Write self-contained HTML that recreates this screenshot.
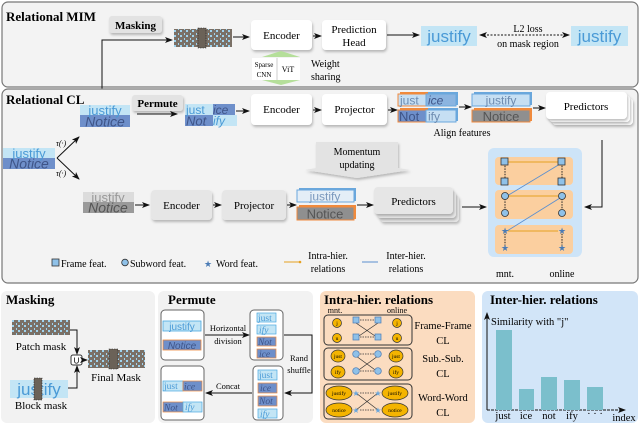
<!DOCTYPE html>
<html><head><meta charset="utf-8"><style>
body{margin:0;background:#fff}
svg{display:block}
text{font-family:"Liberation Serif",serif}
.b{font-weight:bold}
.s{font-family:"Liberation Sans",sans-serif}
</style></head><body>
<svg width="640" height="424" viewBox="0 0 640 424" xmlns="http://www.w3.org/2000/svg">
<defs>
<marker id="a" markerWidth="8" markerHeight="8" refX="7" refY="4" orient="auto" markerUnits="userSpaceOnUse"><path d="M0,1 L8,4 L0,7 L2,4z" fill="#111"/></marker>
<marker id="as" markerWidth="8" markerHeight="8" refX="1" refY="4" orient="auto" markerUnits="userSpaceOnUse"><path d="M8,1 L0,4 L8,7 L6,4z" fill="#111"/></marker>
<filter id="sh" x="-20%" y="-20%" width="140%" height="150%"><feDropShadow dx="1" dy="2" stdDeviation="1.2" flood-color="#000" flood-opacity="0.25"/></filter>
<pattern id="pm" width="6" height="5" patternUnits="userSpaceOnUse"><rect width="6" height="5" fill="#7a7066"/><rect x="0" y="0" width="2" height="2" fill="#9fd3ee"/><rect x="4" y="3" width="1" height="2" fill="#9fd3ee"/></pattern>
</defs>

<!-- MIM panel -->
<rect x="2" y="2" width="636" height="85" rx="6" fill="#f3f3f3" stroke="#777" stroke-width="1.2"/>
<text x="6" y="21" font-size="13" class="b">Relational MIM</text>
<rect x="109" y="16" width="53" height="17" rx="3" fill="#e3e3e3" filter="url(#sh)"/>
<text x="135.5" y="29" font-size="11" class="b" text-anchor="middle">Masking</text>
<rect x="174" y="29" width="58" height="18" fill="url(#pm)"/>
<rect x="198" y="28" width="8" height="20" fill="#6b6258" stroke="#222" stroke-width="0.6" stroke-dasharray="1.5,1"/>
<path d="M102,105 V40 H172" fill="none" stroke="#111" stroke-width="1" marker-end="url(#a)"/>
<path d="M233,37 H249" stroke="#111" marker-end="url(#a)"/>
<rect x="251" y="20" width="61" height="30" rx="4" fill="#fff" filter="url(#sh)"/>
<text x="281.5" y="39" font-size="11" text-anchor="middle">Encoder</text>
<path d="M313,36 H321" stroke="#111" marker-end="url(#a)"/>
<rect x="322" y="20" width="64" height="30" rx="4" fill="#fff" filter="url(#sh)"/>
<text x="354" y="33" font-size="11" text-anchor="middle">Prediction</text>
<text x="354" y="46" font-size="11" text-anchor="middle">Head</text>
<path d="M387,35 H419" stroke="#111" marker-end="url(#a)"/>
<rect x="421" y="26" width="56" height="20" fill="#c3e5f5"/>
<text x="449" y="42" font-size="17" fill="#4a9ad6" text-anchor="middle" class="s">justify</text>
<path d="M480,35 H569" stroke="#111" stroke-dasharray="2,1.5" marker-start="url(#as)" marker-end="url(#a)"/>
<text x="528" y="32" font-size="10" text-anchor="middle">L2 loss</text>
<text x="528" y="47" font-size="10" text-anchor="middle">on mask region</text>
<rect x="571" y="26" width="57" height="20" fill="#c3e5f5"/>
<text x="599.5" y="42" font-size="17" fill="#4a9ad6" text-anchor="middle" class="s">justify</text>
<path d="M262,57 L281,51 L300,57 Z" fill="#b5df9a"/>
<path d="M262,80 L281,85 L300,80 Z" fill="#b5df9a"/>
<rect x="252" y="58" width="48" height="22" fill="#fff"/>
<line x1="277" y1="58" x2="277" y2="80" stroke="#ccc"/>
<text x="264" y="67" font-size="7" text-anchor="middle">Sparse</text>
<text x="264" y="77" font-size="7" text-anchor="middle">CNN</text>
<text x="288" y="72" font-size="8" text-anchor="middle">ViT</text>
<text x="311" y="67" font-size="10">Weight</text>
<text x="311" y="80" font-size="10">sharing</text>

<!-- CL panel -->
<rect x="2" y="89" width="636" height="194" rx="6" fill="#f3f3f3" stroke="#777" stroke-width="1.2"/>
<text x="6" y="104" font-size="13" class="b">Relational CL</text>
<rect x="80" y="105" width="50" height="10" fill="#c3e5f5"/>
<rect x="80" y="115" width="50" height="12" fill="#6e8fca"/>
<text x="105" y="115" font-size="13" fill="#4a9ad6" text-anchor="middle" class="s">justify</text>
<text x="105" y="126.5" font-size="14" fill="#3f5588" text-anchor="middle" class="s" font-style="italic">Notice</text>
<rect x="132" y="95" width="51" height="16" rx="3" fill="#e3e3e3" filter="url(#sh)"/>
<text x="157.5" y="107" font-size="11" class="b" text-anchor="middle">Permute</text>
<path d="M137,114 H177" stroke="#111" marker-end="url(#a)"/>
<rect x="185" y="104" width="28" height="11" fill="#c3e5f5"/><rect x="213" y="104" width="22" height="11" fill="#6e8fca"/>
<rect x="185" y="115" width="28" height="11" fill="#6e8fca"/><rect x="213" y="115" width="24" height="11" fill="#c3e5f5"/>
<text x="186" y="114" font-size="12" fill="#4a9ad6" class="s">just</text><text x="213" y="114" font-size="12" fill="#3f5588" class="s" font-style="italic">ice</text>
<text x="186" y="125.5" font-size="13" fill="#3f5588" class="s" font-style="italic">Not</text><text x="213" y="125" font-size="12" fill="#4a9ad6" class="s" font-style="italic">ify</text>
<path d="M236,111 H249" stroke="#111" marker-end="url(#a)"/>
<rect x="251" y="94" width="61" height="31" rx="4" fill="#fff" filter="url(#sh)"/>
<text x="281.5" y="113" font-size="11" text-anchor="middle">Encoder</text>
<path d="M313,110 H321" stroke="#111" marker-end="url(#a)"/>
<rect x="322" y="94" width="65" height="31" rx="4" fill="#fff" filter="url(#sh)"/>
<text x="354.5" y="113" font-size="11" text-anchor="middle">Projector</text>
<path d="M388,110 H397" stroke="#111" marker-end="url(#a)"/>
<g>
<rect x="400" y="92" width="28" height="13" fill="#f08a3c"/><rect x="428" y="92" width="30" height="13" fill="#6aa7dc"/>
<rect x="398" y="94" width="28" height="12" fill="#c6dff3" stroke="#f08a3c" stroke-width="1"/><rect x="426" y="94" width="30" height="12" fill="#8bb4e0" stroke="#6aa7dc"/>
<text x="400" y="104.5" font-size="12" fill="#6d8bb0" class="s">just</text><text x="428" y="104.5" font-size="12" fill="#3f5588" class="s" font-style="italic">ice</text>
<rect x="400" y="108" width="28" height="13" fill="#f08a3c"/><rect x="428" y="108" width="30" height="13" fill="#6aa7dc"/>
<rect x="398" y="110" width="28" height="12" fill="#6e8fca" stroke="#f08a3c"/><rect x="426" y="110" width="30" height="12" fill="#c6dff3" stroke="#6aa7dc"/>
<text x="399" y="121" font-size="13" fill="#3f5588" class="s">Not</text><text x="428" y="120.5" font-size="12" fill="#6d8bb0" class="s">ify</text>
</g>
<path d="M459,107 H471" stroke="#111" marker-end="url(#a)"/>
<g>
<rect x="474" y="92" width="58" height="13" fill="#6aa7dc"/>
<rect x="472" y="94" width="58" height="12" fill="#c6dff3" stroke="#6aa7dc"/>
<text x="501" y="104.5" font-size="12" fill="#6d8bb0" text-anchor="middle" class="s">justify</text>
<rect x="474" y="108" width="58" height="13" fill="#f08a3c"/>
<rect x="472" y="110" width="58" height="12" fill="#8f8f8f" stroke="#f08a3c"/>
<text x="501" y="121" font-size="13" fill="#555" text-anchor="middle" class="s">Notice</text>
</g>
<text x="462" y="136" font-size="10" text-anchor="middle">Align features</text>
<path d="M533,108 H545" stroke="#111" marker-end="url(#a)"/>
<rect x="552" y="98" width="81" height="27" rx="4" fill="#fff" filter="url(#sh)"/>
<rect x="549" y="95" width="81" height="27" rx="4" fill="#fff" filter="url(#sh)"/>
<rect x="546" y="92" width="81" height="27" rx="4" fill="#fff" filter="url(#sh)"/>
<text x="586" y="110" font-size="11" text-anchor="middle">Predictors</text>
<path d="M602,140 V207 H585" fill="none" stroke="#111" marker-end="url(#a)"/>

<rect x="3" y="148" width="52" height="10" fill="#c3e5f5"/>
<rect x="3" y="158" width="52" height="11" fill="#6e8fca"/>
<text x="29" y="158" font-size="13" fill="#4a9ad6" text-anchor="middle" class="s">justify</text>
<text x="29" y="168.5" font-size="14" fill="#3f5588" text-anchor="middle" class="s" font-style="italic">Notice</text>
<path d="M57,158 L79,137" stroke="#111" marker-end="url(#a)"/>
<path d="M57,158 L79,179" stroke="#111" marker-end="url(#a)"/>
<text x="56" y="146" font-size="8" font-style="italic">τ(·)</text>
<text x="56" y="176" font-size="8" font-style="italic">τ(·)</text>

<path d="M316,142 H398 V168 L410,170 L357,178 L305,170 L316,168 Z" fill="#e3e3e3" filter="url(#sh)"/>
<text x="357" y="155" font-size="10" text-anchor="middle">Momentum</text>
<text x="357" y="168" font-size="10" text-anchor="middle">updating</text>

<rect x="83" y="192" width="51" height="10" fill="#dcdcdc"/>
<rect x="83" y="202" width="51" height="11" fill="#9a9a9a"/>
<text x="108" y="202" font-size="13" fill="#999" text-anchor="middle" class="s">justify</text>
<text x="108" y="212.5" font-size="14" fill="#555" text-anchor="middle" class="s" font-style="italic">Notice</text>
<path d="M135,205 H149" stroke="#111" marker-end="url(#a)"/>
<rect x="151" y="190" width="61" height="30" rx="4" fill="#e6e6e6" filter="url(#sh)"/>
<text x="181.5" y="209" font-size="11" text-anchor="middle">Encoder</text>
<path d="M213,205 H221" stroke="#111" marker-end="url(#a)"/>
<rect x="222" y="190" width="64" height="30" rx="4" fill="#e6e6e6" filter="url(#sh)"/>
<text x="254" y="209" font-size="11" text-anchor="middle">Projector</text>
<path d="M287,205 H296" stroke="#111" marker-end="url(#a)"/>
<g>
<rect x="299" y="188" width="57" height="13" fill="#6aa7dc"/>
<rect x="297" y="190" width="57" height="12" fill="#e4eef7" stroke="#6aa7dc"/>
<text x="325" y="200.5" font-size="12" fill="#7a98bd" text-anchor="middle" class="s">justify</text>
<rect x="299" y="205" width="57" height="14" fill="#f08a3c"/>
<rect x="297" y="207" width="57" height="13" fill="#8f8f8f" stroke="#f08a3c"/>
<text x="325" y="218.5" font-size="13" fill="#555" text-anchor="middle" class="s">Notice</text>
</g>
<path d="M357,205 H373" stroke="#111" marker-end="url(#a)"/>
<rect x="380" y="195" width="79" height="27" rx="4" fill="#e6e6e6" filter="url(#sh)"/>
<rect x="377" y="191" width="79" height="27" rx="4" fill="#e6e6e6" filter="url(#sh)"/>
<rect x="374" y="187" width="79" height="27" rx="4" fill="#e6e6e6" filter="url(#sh)"/>
<text x="413.5" y="205" font-size="11" text-anchor="middle">Predictors</text>
<path d="M462,207 H486" stroke="#111" marker-end="url(#a)"/>

<rect x="488" y="148" width="94" height="109" rx="6" fill="#cde4f8"/>
<rect x="495" y="157" width="78" height="28" rx="4" fill="#fbcf9f"/>
<rect x="495" y="190" width="78" height="29" rx="4" fill="#fbcf9f"/>
<rect x="495" y="225" width="78" height="29" rx="4" fill="#fbcf9f"/>
<g stroke="#222" stroke-width="1" stroke-dasharray="1.5,1.2">
<line x1="505" y1="163" x2="505" y2="178"/><line x1="562" y1="163" x2="562" y2="178"/>
<line x1="505" y1="196" x2="505" y2="212"/><line x1="562" y1="196" x2="562" y2="212"/>
<line x1="505" y1="231" x2="505" y2="248"/><line x1="562" y1="231" x2="562" y2="248"/>
</g>
<g stroke="#e6a020" stroke-width="1">
<line x1="508" y1="162" x2="558" y2="162"/><line x1="508" y1="196" x2="558" y2="196"/><line x1="508" y1="231" x2="558" y2="231"/>
</g>
<g stroke="#5b8fcf" stroke-width="0.9">
<line x1="507" y1="196" x2="560" y2="164"/><line x1="507" y1="231" x2="560" y2="198"/>
</g>
<g fill="#8fc1e8" stroke="#333" stroke-width="0.8">
<rect x="501" y="158" width="7" height="7"/><rect x="558" y="158" width="7" height="7"/>
<rect x="501" y="178" width="7" height="7"/><rect x="558" y="178" width="7" height="7"/>
<circle cx="505" cy="196" r="3.5"/><circle cx="562" cy="196" r="3.5"/>
<circle cx="505" cy="213" r="3.5"/><circle cx="562" cy="213" r="3.5"/>
</g>
<g font-size="9" fill="#4a7bb5" text-anchor="middle" font-family="DejaVu Sans">
<text x="505" y="234">★</text><text x="562" y="234">★</text>
<text x="505" y="251">★</text><text x="562" y="251">★</text>
</g>
<text x="505" y="277" font-size="10" text-anchor="middle">mnt.</text>
<text x="562" y="277" font-size="10" text-anchor="middle">online</text>

<rect x="52" y="259" width="7" height="7" fill="#8fc1e8" stroke="#333" stroke-width="0.8"/>
<text x="61" y="267" font-size="10">Frame feat.</text>
<circle cx="125" cy="262.5" r="3.3" fill="#8fc1e8" stroke="#333" stroke-width="0.8"/>
<text x="130" y="267" font-size="10">Subword feat.</text>
<text x="208" y="267" font-size="9" fill="#4a7bb5" text-anchor="middle" font-family="DejaVu Sans">★</text>
<text x="216" y="267" font-size="10">Word feat.</text>
<line x1="284" y1="262" x2="300" y2="262" stroke="#e6a020"/>
<circle cx="300" cy="262" r="1.3" fill="#e6a020"/>
<text x="328" y="259" font-size="10" text-anchor="middle">Intra-hier.</text>
<text x="328" y="272" font-size="10" text-anchor="middle">relations</text>
<line x1="362" y1="262" x2="378" y2="262" stroke="#5b8fcf"/>
<text x="406" y="259" font-size="10" text-anchor="middle">Inter-hier.</text>
<text x="406" y="272" font-size="10" text-anchor="middle">relations</text>

<rect x="1" y="291" width="154" height="132" rx="6" fill="#f2f2f2"/>
<text x="6" y="304" font-size="13" class="b">Masking</text>
<rect x="12" y="320" width="58" height="15" fill="url(#pm)"/>
<text x="41" y="350" font-size="11" text-anchor="middle">Patch mask</text>
<path d="M70,330 H77 V354" fill="none" stroke="#111" marker-end="url(#a)"/>
<rect x="71" y="355" width="11" height="10" rx="2" fill="#fff" stroke="#333"/>
<text x="76.5" y="363.5" font-size="8" text-anchor="middle" class="s">U</text>
<path d="M68,388 H77 V366" fill="none" stroke="#111" marker-end="url(#a)"/>
<path d="M83,360 H87" stroke="#111" marker-end="url(#a)"/>
<rect x="88" y="350" width="57" height="18" fill="url(#pm)"/>
<rect x="109" y="349" width="9" height="20" fill="#6b6258" stroke="#222" stroke-width="0.6" stroke-dasharray="1.5,1"/>
<text x="116" y="381" font-size="11" text-anchor="middle">Final Mask</text>
<rect x="10" y="380" width="58" height="18" fill="#c3e5f5"/>
<text x="39" y="395" font-size="17" fill="#4a9ad6" text-anchor="middle" class="s">justify</text>
<rect x="34" y="378" width="8" height="22" fill="#6b6258" stroke="#222" stroke-width="0.6" stroke-dasharray="1.5,1"/>
<text x="41" y="409" font-size="11" text-anchor="middle">Block mask</text>

<rect x="158" y="291" width="155" height="132" rx="6" fill="#f2f2f2"/>
<text x="168" y="304" font-size="13" class="b">Permute</text>
<rect x="161" y="310" width="43" height="50" rx="4" fill="#fff" stroke="#666"/>
<rect x="163" y="321" width="38" height="10" fill="#c3e5f5" stroke="#4aa8e0" stroke-width="0.8"/>
<text x="182" y="330" font-size="10" fill="#4a9ad6" text-anchor="middle" class="s">justify</text>
<rect x="163" y="340" width="38" height="10" fill="#6e8fca" stroke="#f08a3c" stroke-width="0.8"/>
<text x="182" y="349" font-size="10" fill="#3f5588" text-anchor="middle" class="s" font-style="italic">Notice</text>
<path d="M205,335 H249" stroke="#111" marker-end="url(#a)"/>
<text x="228" y="331" font-size="8.5" text-anchor="middle">Horizontal</text>
<text x="228" y="344" font-size="8.5" text-anchor="middle">division</text>
<rect x="250" y="310" width="33" height="50" rx="4" fill="#fff" stroke="#666"/>
<g font-size="9.5" class="s">
<rect x="257" y="313" width="19" height="9" fill="#c3e5f5" stroke="#4aa8e0" stroke-width="0.7"/><text x="258" y="321" fill="#4a9ad6">just</text>
<rect x="257" y="325" width="19" height="9" fill="#c3e5f5" stroke="#4aa8e0" stroke-width="0.7"/><text x="259" y="333" fill="#4a9ad6" font-style="italic">ify</text>
<rect x="257" y="337" width="19" height="9" fill="#6e8fca" stroke="#f08a3c" stroke-width="0.7"/><text x="258" y="345" fill="#3f5588" font-style="italic">Not</text>
<rect x="257" y="349" width="19" height="9" fill="#6e8fca" stroke="#f08a3c" stroke-width="0.7"/><text x="259" y="357" fill="#3f5588" font-style="italic">ice</text>
</g>
<path d="M284,335 H312 V393 H285" fill="none" stroke="#111" marker-end="url(#a)"/>
<text x="299" y="361" font-size="8.5" text-anchor="middle">Rand</text>
<text x="299" y="373" font-size="8.5" text-anchor="middle">shuffle</text>
<rect x="253" y="366" width="30" height="54" rx="4" fill="#fff" stroke="#666"/>
<g font-size="9.5" class="s">
<rect x="258" y="370" width="19" height="10" fill="#c3e5f5" stroke="#4aa8e0" stroke-width="0.7"/><text x="259" y="378" fill="#4a9ad6">just</text>
<rect x="258" y="383" width="19" height="10" fill="#6e8fca" stroke="#f08a3c" stroke-width="0.7"/><text x="260" y="391" fill="#3f5588" font-style="italic">ice</text>
<rect x="258" y="396" width="19" height="10" fill="#6e8fca" stroke="#f08a3c" stroke-width="0.7"/><text x="259" y="404" fill="#3f5588" font-style="italic">Not</text>
<rect x="258" y="409" width="19" height="9" fill="#c3e5f5" stroke="#4aa8e0" stroke-width="0.7"/><text x="260" y="417" fill="#4a9ad6" font-style="italic">ify</text>
</g>
<path d="M252,393 H206" stroke="#111" marker-end="url(#a)"/>
<text x="228" y="389" font-size="8.5" text-anchor="middle">Concat</text>
<rect x="161" y="366" width="43" height="54" rx="4" fill="#fff" stroke="#666"/>
<g font-size="9.5" class="s">
<rect x="163" y="381" width="20" height="10" fill="#c3e5f5" stroke="#4aa8e0" stroke-width="0.7"/><rect x="183" y="381" width="19" height="10" fill="#6e8fca" stroke="#f08a3c" stroke-width="0.7"/>
<text x="164" y="389" fill="#4a9ad6">just</text><text x="184" y="389.5" fill="#3f5588" font-style="italic">ice</text>
<rect x="163" y="402" width="20" height="10" fill="#6e8fca" stroke="#f08a3c" stroke-width="0.7"/><rect x="183" y="402" width="19" height="10" fill="#c3e5f5" stroke="#4aa8e0" stroke-width="0.7"/>
<text x="164" y="410.5" fill="#3f5588" font-style="italic">Not</text><text x="185" y="410" fill="#4a9ad6" font-style="italic">ify</text>
</g>

<rect x="320" y="291" width="155" height="132" rx="6" fill="#fbdcc0"/>
<text x="324" y="304" font-size="13" class="b">Intra-hier. relations</text>
<text x="335" y="313" font-size="8" text-anchor="middle">mnt.</text>
<text x="397" y="313" font-size="8" text-anchor="middle">online</text>
<rect x="324" y="315" width="88" height="30" rx="4" fill="none" stroke="#333"/>
<rect x="324" y="348" width="88" height="32" rx="4" fill="none" stroke="#333"/>
<rect x="324" y="384" width="88" height="35" rx="4" fill="none" stroke="#333"/>
<g fill="#f4b400" stroke="#333" stroke-width="0.7">
<circle cx="337" cy="323" r="4.5"/><circle cx="337" cy="338" r="4.5"/><circle cx="397" cy="323" r="4.5"/><circle cx="397" cy="338" r="4.5"/>
<ellipse cx="338" cy="356" rx="7" ry="6"/><ellipse cx="338" cy="372" rx="7" ry="6"/><ellipse cx="396" cy="356" rx="7" ry="6"/><ellipse cx="396" cy="372" rx="7" ry="6"/>
<ellipse cx="339" cy="393" rx="13" ry="7"/><ellipse cx="339" cy="410" rx="13" ry="7"/><ellipse cx="395" cy="393" rx="13" ry="7"/><ellipse cx="395" cy="410" rx="13" ry="7"/>
</g>
<g font-size="5.5" text-anchor="middle" class="s">
<text x="337" y="325">j</text><text x="337" y="340">u</text><text x="397" y="325">j</text><text x="397" y="340">u</text>
<text x="338" y="358">just</text><text x="338" y="374">ify</text><text x="396" y="358">just</text><text x="396" y="374">ify</text>
<text x="339" y="395">justify</text><text x="339" y="412">notice</text><text x="395" y="395">justify</text><text x="395" y="412">notice</text>
</g>
<g stroke="#333" stroke-width="0.7">
<line x1="356" y1="323" x2="378" y2="338"/><line x1="356" y1="338" x2="378" y2="323"/>
<line x1="356" y1="356" x2="378" y2="372"/><line x1="356" y1="372" x2="378" y2="356"/>
<line x1="356" y1="393" x2="378" y2="410"/><line x1="356" y1="410" x2="378" y2="393"/>
<line x1="360" y1="320" x2="374" y2="320" stroke-dasharray="1.5,1"/><line x1="360" y1="337" x2="374" y2="337" stroke-dasharray="1.5,1"/>
<line x1="360" y1="354" x2="374" y2="354" stroke-dasharray="1.5,1"/><line x1="360" y1="371" x2="374" y2="371" stroke-dasharray="1.5,1"/>
<line x1="360" y1="393" x2="374" y2="393" stroke-dasharray="1.5,1"/><line x1="360" y1="410" x2="374" y2="410" stroke-dasharray="1.5,1"/>
</g>
<g fill="#8fc1e8" stroke="#4a7bb5" stroke-width="0.7">
<rect x="353" y="317" width="6" height="6"/><rect x="375" y="317" width="6" height="6"/>
<rect x="353" y="334" width="6" height="6"/><rect x="375" y="334" width="6" height="6"/>
<circle cx="356" cy="354" r="3.3"/><circle cx="378" cy="354" r="3.3"/>
<circle cx="356" cy="371" r="3.3"/><circle cx="378" cy="371" r="3.3"/>
</g>
<g font-size="8" fill="#6aa7dc" text-anchor="middle" font-family="DejaVu Sans">
<text x="356" y="396">★</text><text x="378" y="396">★</text><text x="356" y="413">★</text><text x="378" y="413">★</text>
</g>
<g font-size="10.5" text-anchor="middle">
<text x="443" y="329">Frame-Frame</text><text x="443" y="344">CL</text>
<text x="443" y="362">Sub.-Sub.</text><text x="443" y="377">CL</text>
<text x="443" y="401">Word-Word</text><text x="443" y="416">CL</text>
</g>

<rect x="482" y="291" width="156" height="132" rx="6" fill="#d2e5f8"/>
<text x="490" y="304" font-size="13" class="b">Inter-hier. relations</text>
<path d="M487,410 V313" stroke="#111" marker-end="url(#a)"/>
<path d="M487,410 H625" stroke="#111" stroke-dasharray="3,1" marker-end="url(#a)"/>
<text x="491" y="325" font-size="10.5">Similarity with "j"</text>
<g fill="#7bbfcc">
<rect x="496" y="330" width="16" height="80"/>
<rect x="519" y="389" width="15" height="21"/>
<rect x="541" y="377" width="16" height="33"/>
<rect x="564" y="380" width="16" height="30"/>
<rect x="587" y="387" width="16" height="23"/>
</g>
<g font-size="10.5" text-anchor="middle">
<text x="503" y="419">just</text><text x="526" y="419">ice</text><text x="549" y="419">not</text><text x="572" y="419">ify</text><text x="595" y="417">· · ·</text><text x="624" y="421">index</text>
</g>
</svg>
</body></html>
